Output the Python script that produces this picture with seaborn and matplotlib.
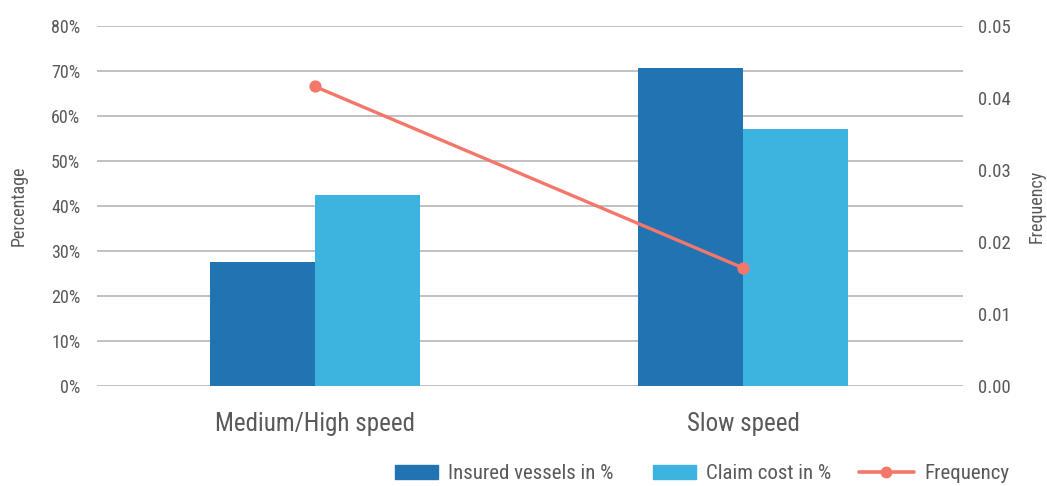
import matplotlib
matplotlib.use("Agg")
import matplotlib.pyplot as plt
import pandas as pd
import seaborn as sns
from matplotlib.legend_handler import HandlerPatch
from matplotlib.lines import Line2D
from matplotlib.patches import Patch, Rectangle
from matplotlib.ticker import FuncFormatter, MultipleLocator

# data
categories = ["Medium/High speed", "Slow speed"]
insured_pct = [27.6, 70.7]
claim_pct = [42.4, 57.1]
frequency = [0.0416, 0.0164]
series_names = ["Insured vessels in %", "Claim cost in %"]

BLUE = "#2273b1"
LIGHT = "#3db4e0"
SALMON = "#f4776a"
TEXT = "#595959"

sns.set_theme(style="white")
plt.rcParams["font.family"] = ["Roboto Condensed", "Liberation Sans Narrow", "Roboto", "DejaVu Sans"]

df = pd.DataFrame({
    "cat": categories * 2,
    "series": [series_names[0]] * 2 + [series_names[1]] * 2,
    "value": insured_pct + claim_pct,
})

fig = plt.figure(figsize=(10.47, 4.86), dpi=100)
ax = fig.add_axes([0.0926, 0.2058, 0.8272, 0.7407])

sns.barplot(data=df, x="cat", y="value", hue="series", order=categories,
            hue_order=series_names, palette=[BLUE, LIGHT], width=0.49,
            gap=0, saturation=1, linewidth=0, ax=ax, legend=False)
ax.set_ylim(0, 80)
ax.set_xlim(-0.509, 1.514)
ax.yaxis.set_major_locator(MultipleLocator(10))
ax.yaxis.set_major_formatter(FuncFormatter(lambda v, _: f"{v:.0f}%"))
ax.grid(axis="y", color="#b0b0b0", lw=1.1)
ax.set_axisbelow(True)
for s in ax.spines.values():
    s.set_visible(False)
ax.tick_params(axis="y", length=0, pad=12, labelsize=13, labelcolor=TEXT)
ax.tick_params(axis="x", length=0, pad=19, labelsize=18, labelcolor=TEXT)
ax.set_xlabel("")
ax.set_ylabel("Percentage", fontsize=13, color=TEXT, labelpad=17)

ax2 = ax.twinx()
sns.pointplot(x=categories, y=frequency, order=categories, color=SALMON,
              markers="o", markersize=7, linewidth=2.4, ax=ax2)
ax2.set_ylim(0, 0.05)
ax2.set_xlim(-0.509, 1.514)
ax2.yaxis.set_major_locator(MultipleLocator(0.01))
ax2.yaxis.set_major_formatter(FuncFormatter(lambda v, _: f"{v:.2f}"))
ax2.grid(False)
for s in ax2.spines.values():
    s.set_visible(False)
ax2.tick_params(axis="y", length=0, pad=11, labelsize=13.5, labelcolor=TEXT)
ax2.set_ylabel("Frequency", fontsize=13, color=TEXT, labelpad=12)


def narrow_patch(legend, orig_handle, xdescent, ydescent, width, height, fontsize):
    # legend squares are shorter than the line handle
    w = 31
    return Rectangle((width - w - xdescent, -ydescent), w, height)


handles = [
    Patch(color=BLUE, label=series_names[0]),
    Patch(color=LIGHT, label=series_names[1]),
    Line2D([0], [0], color=SALMON, lw=2.6, marker="o", markersize=7.5, label="Frequency"),
]
fig.legend(handles=handles, loc="center", bbox_to_anchor=(0.665, 0.0247), ncol=3,
           frameon=False, fontsize=15, labelcolor=TEXT, handlelength=2.6,
           handleheight=0.65, columnspacing=1.35, handletextpad=0.5,
           handler_map={Patch: HandlerPatch(patch_func=narrow_patch)})

fig.savefig("out.png", dpi=100)
